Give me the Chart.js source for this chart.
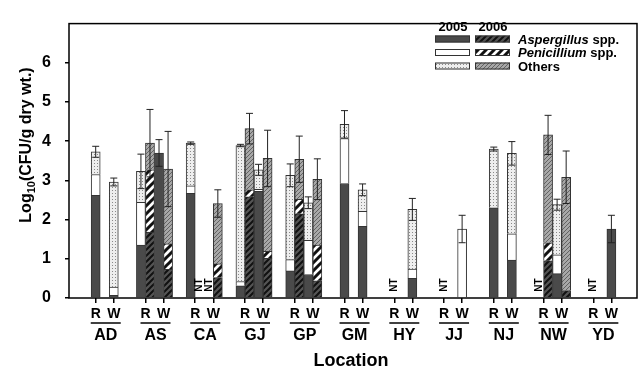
<!DOCTYPE html>
<html>
<head>
<meta charset="utf-8">
<title>Log10 CFU by location</title>
<script src="https://cdn.jsdelivr.net/npm/chart.js@4.4.0/dist/chart.umd.min.js"></script>
<style>
  html, body { margin:0; padding:0; background:#fff; }
  #wrap { width:641px; height:371px; position:relative; }
</style>
</head>
<body>
<div id="wrap"><canvas id="chart"></canvas></div>
<script>
const locations = ['AD','AS','CA','GJ','GP','GM','HY','JJ','NJ','NW','YD'];
const sites = ['R','W'];
const yTicks = [0, 1, 2, 3, 4, 5, 6];

// one entry per location/site: AD-R, AD-W, AS-R, AS-W, ... YD-W  (null = no bar)
const asp2005 = [2.62,0.07, 1.35,3.70, 2.67,null, 0.31,2.72, 0.69,0.60, 2.92,1.83, null,0.50, null,0.00, 2.30,0.97, null,0.62, null,1.76];
const pen2005 = [0.53,0.21, 1.09,0.00, 0.19,null, 0.11,0.05, 0.29,0.87, 1.15,0.38, null,0.24, null,1.76, 0.00,0.67, null,0.48, null,0.00];
const oth2005 = [0.58,2.68, 0.79,0.00, 1.09,null, 3.47,0.50, 2.15,0.96, 0.36,0.55, null,1.52, null,0.00, 1.50,2.05, null,1.28, null,0.00];
const err2005 = [0.14,0.10, 0.44,0.34, 0.03,null, 0.03,0.14, 0.29,0.15, 0.35,0.15, null,0.28, null,0.35, 0.05,0.30, null,0.14, null,0.35];

const asp2006 = [null,null, 1.68,0.73, null,0.52, 2.58,1.01, 2.15,0.44, null,null, null,null, null,null, null,null, 0.95,0.19, null,null];
const pen2006 = [null,null, 1.59,0.65, null,0.35, 0.18,0.18, 0.37,0.91, null,null, null,null, null,null, null,null, 0.46,0.00, null,null];
const oth2006 = [null,null, 0.68,1.91, null,1.54, 1.56,2.37, 1.02,1.68, null,null, null,null, null,null, null,null, 2.75,2.89, null,null];
const err2006 = [null,null, 0.86,0.96, null,0.35, 0.39,0.72, 0.59,0.52, null,null, null,null, null,null, null,null, 0.50,0.67, null,null];

// not tested
const nt2005 = ['CA-W','HY-R','JJ-R','NW-R','YD-R'];
const nt2006 = ['CA-R'];

const FONT = "'Liberation Sans', Arial, sans-serif";
const colKeys = [];
locations.forEach(l => sites.forEach(s => colKeys.push(l + '-' + s)));

// x layout in bar-width units
const STEP = 5.5, GAP = 2;
function tickPos(c) { return Math.floor(c / 2) * STEP + (c % 2) * GAP; }
const used05 = c => asp2005[c] !== null || nt2005.includes(colKeys[c]);
const used06 = c => asp2006[c] !== null || nt2006.includes(colKeys[c]);
function slotX(c, year) {
  if (!(used05(c) && used06(c))) return tickPos(c);
  return tickPos(c) + (year === 2005 ? -0.5 : 0.5);
}

function stripes(size, bg, line, lw) {
  const c = document.createElement('canvas');
  c.width = c.height = size;
  const g = c.getContext('2d');
  g.fillStyle = bg; g.fillRect(0, 0, size, size);
  g.strokeStyle = line; g.lineWidth = lw;
  g.beginPath();
  g.moveTo(0, size); g.lineTo(size, 0);
  g.moveTo(-size / 2, size / 2); g.lineTo(size / 2, -size / 2);
  g.moveTo(size / 2, size * 1.5); g.lineTo(size * 1.5, size / 2);
  g.stroke();
  return g.createPattern(c, 'repeat');
}
function dots() {
  const c = document.createElement('canvas');
  c.width = c.height = 3;
  const g = c.getContext('2d');
  g.fillStyle = '#eeeeee'; g.fillRect(0, 0, 3, 3);
  g.fillStyle = '#8a8a8a'; g.fillRect(1, 1, 1, 1);
  return g.createPattern(c, 'repeat');
}

const fills = {
  asp05: '#4a4a4a',
  pen05: '#ffffff',
  oth05: dots(),
  asp06: stripes(6, '#555555', '#111', 2),
  pen06: stripes(8, '#ffffff', '#111', 3),
  oth06: stripes(4, '#a8a8a8', '#626262', 1)
};

function points(vals, year) {
  const out = [];
  vals.forEach((v, c) => { if (v !== null && v > 0) out.push({ x: slotX(c, year), y: v }); });
  return out;
}
function ds(label, vals, year, fill) {
  return { label, data: points(vals, year), backgroundColor: fill, borderColor: '#333',
           borderWidth: 1, stack: 'all' };
}
const datasets = [
  ds('Aspergillus 2005', asp2005, 2005, fills.asp05),
  ds('Penicillium 2005', pen2005, 2005, fills.pen05),
  ds('Others 2005', oth2005, 2005, fills.oth05),
  ds('Aspergillus 2006', asp2006, 2006, fills.asp06),
  ds('Penicillium 2006', pen2006, 2006, fills.pen06),
  ds('Others 2006', oth2006, 2006, fills.oth06)
];

const decor = {
  id: 'decor',
  afterDatasetsDraw(chart) {
    const ctx = chart.ctx, xs = chart.scales.x, ys = chart.scales.y;
    ctx.save();
    // error bars
    ctx.strokeStyle = '#222'; ctx.lineWidth = 1;
    [[2005, asp2005, pen2005, oth2005, err2005], [2006, asp2006, pen2006, oth2006, err2006]].forEach(([yr, a, p, o, e]) => {
      a.forEach((v, c) => {
        if (v === null || e[c] === null) return;
        const tot = a[c] + p[c] + o[c];
        const x = xs.getPixelForValue(slotX(c, yr));
        const y1 = ys.getPixelForValue(tot + e[c]), y2 = ys.getPixelForValue(tot - e[c]);
        ctx.beginPath();
        ctx.moveTo(x, y1); ctx.lineTo(x, y2);
        ctx.moveTo(x - 3.5, y1); ctx.lineTo(x + 3.5, y1);
        ctx.moveTo(x - 3.5, y2); ctx.lineTo(x + 3.5, y2);
        ctx.stroke();
      });
    });
    // NT labels
    ctx.fillStyle = '#000';
    ctx.font = 'bold 10px ' + FONT;
    ctx.textAlign = 'center'; ctx.textBaseline = 'middle';
    [[2005, nt2005], [2006, nt2006]].forEach(([yr, list]) => {
      list.forEach(k => {
        const c = colKeys.indexOf(k);
        const x = xs.getPixelForValue(slotX(c, yr));
        ctx.save();
        ctx.translate(x, ys.getPixelForValue(0) - 13);
        ctx.rotate(-Math.PI / 2);
        ctx.fillText('NT', 0, 0);
        ctx.restore();
      });
    });
    ctx.restore();
  },
  afterDraw(chart) {
    const ctx = chart.ctx, a = chart.chartArea, xs = chart.scales.x;
    ctx.save();
    ctx.strokeStyle = '#000'; ctx.lineWidth = 1.5;
    ctx.strokeRect(a.left, a.top, a.right - a.left, a.bottom - a.top);

    // location names under the R/W ticks
    ctx.fillStyle = '#000';
    ctx.textAlign = 'center'; ctx.textBaseline = 'alphabetic';
    ctx.font = 'bold 16px ' + FONT;
    locations.forEach((loc, i) => {
      const mid = xs.getPixelForValue((tickPos(2 * i) + tickPos(2 * i + 1)) / 2);
      ctx.beginPath();
      ctx.moveTo(mid - 14, 323); ctx.lineTo(mid + 16, 323);
      ctx.stroke();
      ctx.fillText(loc, mid + 1, 340);
    });
    ctx.font = 'bold 18px ' + FONT;
    ctx.fillText('Location', 351, 366);

    // y title with subscript
    ctx.save();
    ctx.translate(31, 145);
    ctx.rotate(-Math.PI / 2);
    const big = 'bold 16px ' + FONT, small = 'bold 11px ' + FONT;
    ctx.font = big;
    const wa = ctx.measureText('Log').width, wc = ctx.measureText('(CFU/g dry wt.)').width;
    ctx.font = small;
    const wb = ctx.measureText('10').width;
    let x = -(wa + wb + wc) / 2;
    ctx.textAlign = 'left';
    ctx.font = big; ctx.fillText('Log', x, 0); x += wa;
    ctx.font = small; ctx.fillText('10', x, 4); x += wb;
    ctx.font = big; ctx.fillText('(CFU/g dry wt.)', x, 0);
    ctx.restore();

    // legend
    ctx.font = 'bold 13px ' + FONT;
    ctx.textAlign = 'center';
    ctx.fillText('2005', 453, 31);
    ctx.fillText('2006', 493, 31);
    const rows = [
      [fills.asp05, fills.asp06, 'Aspergillus', ' spp.'],
      [fills.pen05, fills.pen06, 'Penicillium', ' spp.'],
      [fills.oth05, fills.oth06, '', 'Others']
    ];
    ctx.lineWidth = 1; ctx.strokeStyle = '#333';
    rows.forEach((r, i) => {
      const base = 43.5 + i * 13.5;
      const top = base - 8;
      ctx.fillStyle = r[0]; ctx.fillRect(435, top, 35, 7); ctx.strokeRect(435.5, top + 0.5, 34, 6);
      ctx.fillStyle = r[1]; ctx.fillRect(475, top, 35, 7); ctx.strokeRect(475.5, top + 0.5, 34, 6);
      ctx.fillStyle = '#000'; ctx.textAlign = 'left';
      let tx = 518;
      if (r[2]) {
        ctx.font = 'italic bold 13px ' + FONT;
        ctx.fillText(r[2], tx, base);
        tx += ctx.measureText(r[2]).width;
      }
      ctx.font = 'bold 13px ' + FONT;
      ctx.fillText(r[3], tx, base);
    });
    ctx.restore();
  }
};

new Chart(document.getElementById('chart'), {
  type: 'bar',
  data: { datasets },
  options: {
    responsive: true,
    maintainAspectRatio: false,
    animation: false,
    layout: { padding: { top: 8, right: 4, left: 0, bottom: 0 } },
    plugins: { legend: { display: false }, tooltip: { enabled: false } },
    datasets: { bar: { barPercentage: 1, categoryPercentage: 1 } },
    scales: {
      x: {
        type: 'linear', min: -2.95, max: 59.83, offset: false, stacked: true,
        afterBuildTicks: s => { s.ticks = colKeys.map((k, c) => ({ value: tickPos(c) })); },
        afterFit: s => { s.height = 73; },
        grid: { display: true, drawOnChartArea: false, drawTicks: true, tickLength: 5,
                color: '#000', lineWidth: 1.5, offset: false },
        border: { display: false },
        ticks: { autoSkip: false, maxRotation: 0, padding: 3, color: '#000',
                 font: { family: FONT, size: 14, weight: 'bold' },
                 callback: (v, i) => sites[i % 2] }
      },
      y: {
        min: 0, max: 7, stacked: true,
        afterBuildTicks: s => { s.ticks = yTicks.map(v => ({ value: v })); },
        afterFit: s => { s.width = 69; },
        grid: { display: true, drawOnChartArea: false, drawTicks: true, tickLength: 4,
                color: '#000', lineWidth: 1.5 },
        border: { display: false },
        ticks: { padding: 14, color: '#000', font: { family: FONT, size: 16, weight: 'bold' } }
      }
    }
  },
  plugins: [decor]
});
</script>
</body>
</html>
